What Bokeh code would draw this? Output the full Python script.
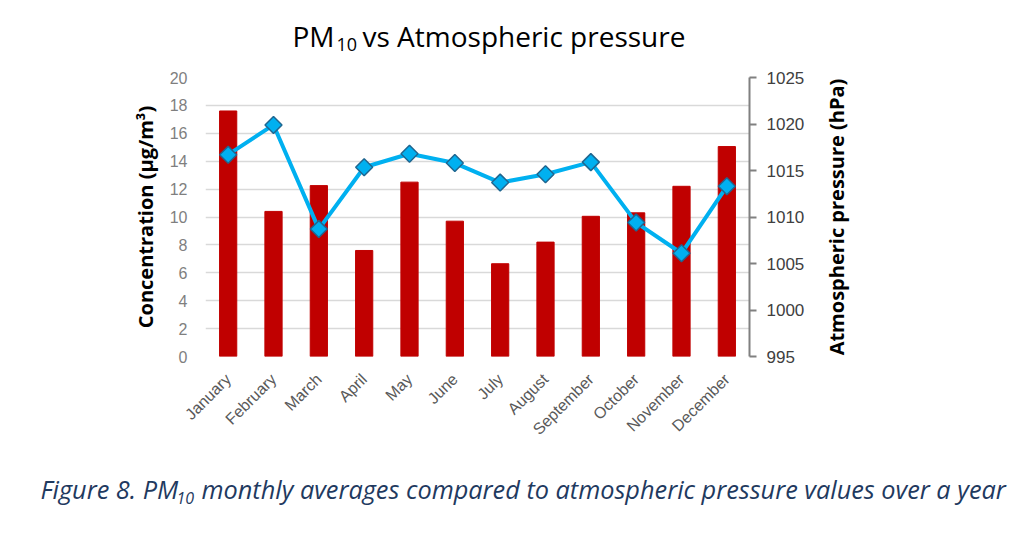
import numpy as np
from bokeh.plotting import figure
from bokeh.layouts import column, row
from bokeh.models import Range1d, LinearAxis, FactorRange, FixedTicker, ColumnDataSource
from bokeh.core.properties import value
from bokeh.embed import file_html
from bokeh.resources import INLINE

months = ["January", "February", "March", "April", "May", "June", "July",
          "August", "September", "October", "November", "December"]
pm10 = [17.6, 10.4, 12.25, 7.6, 12.5, 9.7, 6.65, 8.2, 10.05, 10.3, 12.2, 15.05]
pressure = [1016.7, 1019.9, 1008.7, 1015.35, 1016.8, 1015.8, 1013.7, 1014.6,
            1015.9, 1009.4, 1006.1, 1013.3]
left_ticks = [0, 2, 4, 6, 8, 10, 12, 14, 16, 18, 20]
right_ticks = [995, 1000, 1005, 1010, 1015, 1020, 1025]

TITLE_H, MAIN_H, CAP_H = 60, 405, 62
MAIN_W, TOTAL_W = 815, 1008


def text_fig(w, h):
    f = figure(width=w, height=h, x_range=Range1d(0, w), y_range=Range1d(0, h),
               output_backend="svg", toolbar_location=None,
               x_axis_type=None, y_axis_type=None, min_border=0)
    f.outline_line_color = None
    f.grid.visible = False
    return f


def put(f, x, y, text, size, font="Open Sans", style="normal", color="#000000",
        angle=0.0, align="left", baseline="alphabetic"):
    f.text(x=[x], y=[y], text=[text], angle=angle, text_align=align,
           text_baseline=baseline, text_font=value(font), text_font_style=style,
           text_font_size=size, text_color=color)


# ---- title ----
tf = text_fig(TOTAL_W, TITLE_H)
put(tf, 292, 25, "PM", "28px")
put(tf, 336, 16, "10", "18px")
put(tf, 362, 25, "vs Atmospheric pressure", "28px")

# ---- main chart ----
src = ColumnDataSource(dict(month=months, pm10=pm10, pressure=pressure))

p = figure(x_range=FactorRange(*months), y_range=Range1d(0, 20),
           width=MAIN_W, height=MAIN_H, output_backend="svg", toolbar_location=None,
           min_border_left=205, min_border_right=66, min_border_top=17,
           min_border_bottom=109)
p.extra_y_ranges = {"p": Range1d(995, 1025)}
p.outline_line_color = None

p.vbar(x="month", top="pm10", width=0.38, source=src, fill_color="#c00000",
       line_color="#c00000")
p.line(x="month", y="pressure", source=src, y_range_name="p", line_width=4,
       line_color="#00b0f0")
p.scatter(x="month", y="pressure", source=src, y_range_name="p", marker="square",
          angle=np.pi / 4, size=12, fill_color="#00b0f0", line_color="#1f6690",
          line_width=1.5)

ya = p.yaxis[0]
ya.ticker = FixedTicker(ticks=left_ticks)
ya.axis_line_color = None
ya.major_tick_line_color = None
ya.minor_tick_line_color = None
ya.major_tick_out = 0
ya.major_tick_in = 0
ya.major_label_standoff = 18
ya.major_label_text_font = "Liberation Sans"
ya.major_label_text_font_size = "16px"
ya.major_label_text_color = "#7f7f7f"
ya.axis_label = "Concentration (µg/m³)"
ya.axis_label_text_font = "Open Sans"
ya.axis_label_text_font_style = "bold"
ya.axis_label_text_font_size = "20px"
ya.axis_label_text_color = "#000000"
ya.axis_label_standoff = 8

p.ygrid.ticker = FixedTicker(ticks=left_ticks)
p.ygrid.grid_line_color = "#d9d9d9"
p.ygrid.grid_line_width = 1.5
p.xgrid.visible = False

xa = p.xaxis[0]
xa.axis_line_color = None
xa.major_tick_line_color = None
xa.major_tick_out = 0
xa.major_tick_in = 0
xa.major_label_orientation = np.pi / 4
xa.major_label_standoff = 20
xa.major_label_text_font = "Liberation Sans"
xa.major_label_text_font_size = "16px"
xa.major_label_text_color = "#595959"

ra = LinearAxis(y_range_name="p", ticker=FixedTicker(ticks=right_ticks))
ra.axis_line_color = "#808080"
ra.axis_line_width = 2
ra.major_tick_line_color = "#808080"
ra.major_tick_line_width = 2
ra.major_tick_out = 7
ra.major_tick_in = 0
ra.minor_tick_line_color = None
ra.major_label_standoff = 10
ra.major_label_text_font = "Liberation Sans"
ra.major_label_text_font_size = "17px"
ra.major_label_text_color = "#404040"
p.add_layout(ra, "right")

# ---- right axis title (reads bottom-to-top), drawn as an axis label ----
rf = figure(width=TOTAL_W - MAIN_W, height=MAIN_H, x_range=Range1d(0, 1),
            y_range=Range1d(995, 1025), output_backend="svg", toolbar_location=None,
            x_axis_type=None, min_border_left=40, min_border_right=0,
            min_border_top=17, min_border_bottom=109)
rf.outline_line_color = None
rf.grid.visible = False
ry = rf.yaxis[0]
ry.ticker = FixedTicker(ticks=[])
ry.axis_line_color = None
ry.major_tick_line_color = None
ry.minor_tick_line_color = None
ry.major_tick_out = 0
ry.major_tick_in = 0
ry.major_label_standoff = 0
ry.axis_label = "Atmospheric pressure (hPa)"
ry.axis_label_text_font = "Open Sans"
ry.axis_label_text_font_style = "bold"
ry.axis_label_text_font_size = "20px"
ry.axis_label_text_color = "#000000"
ry.axis_label_standoff = 6

# ---- caption ----
cf = text_fig(TOTAL_W, CAP_H)
ccol = "#1f3a5f"
put(cf, 40, 39, "Figure 8. PM", "25.3px", style="italic", color=ccol)
put(cf, 176, 30, "10", "16px", style="italic", color=ccol)
put(cf, 201, 39,
    "monthly averages compared to atmospheric pressure values over a year",
    "25.3px", style="italic", color=ccol)

layout = column(tf, row(p, rf), cf)
open("out.html", "w").write(file_html(layout, INLINE))
